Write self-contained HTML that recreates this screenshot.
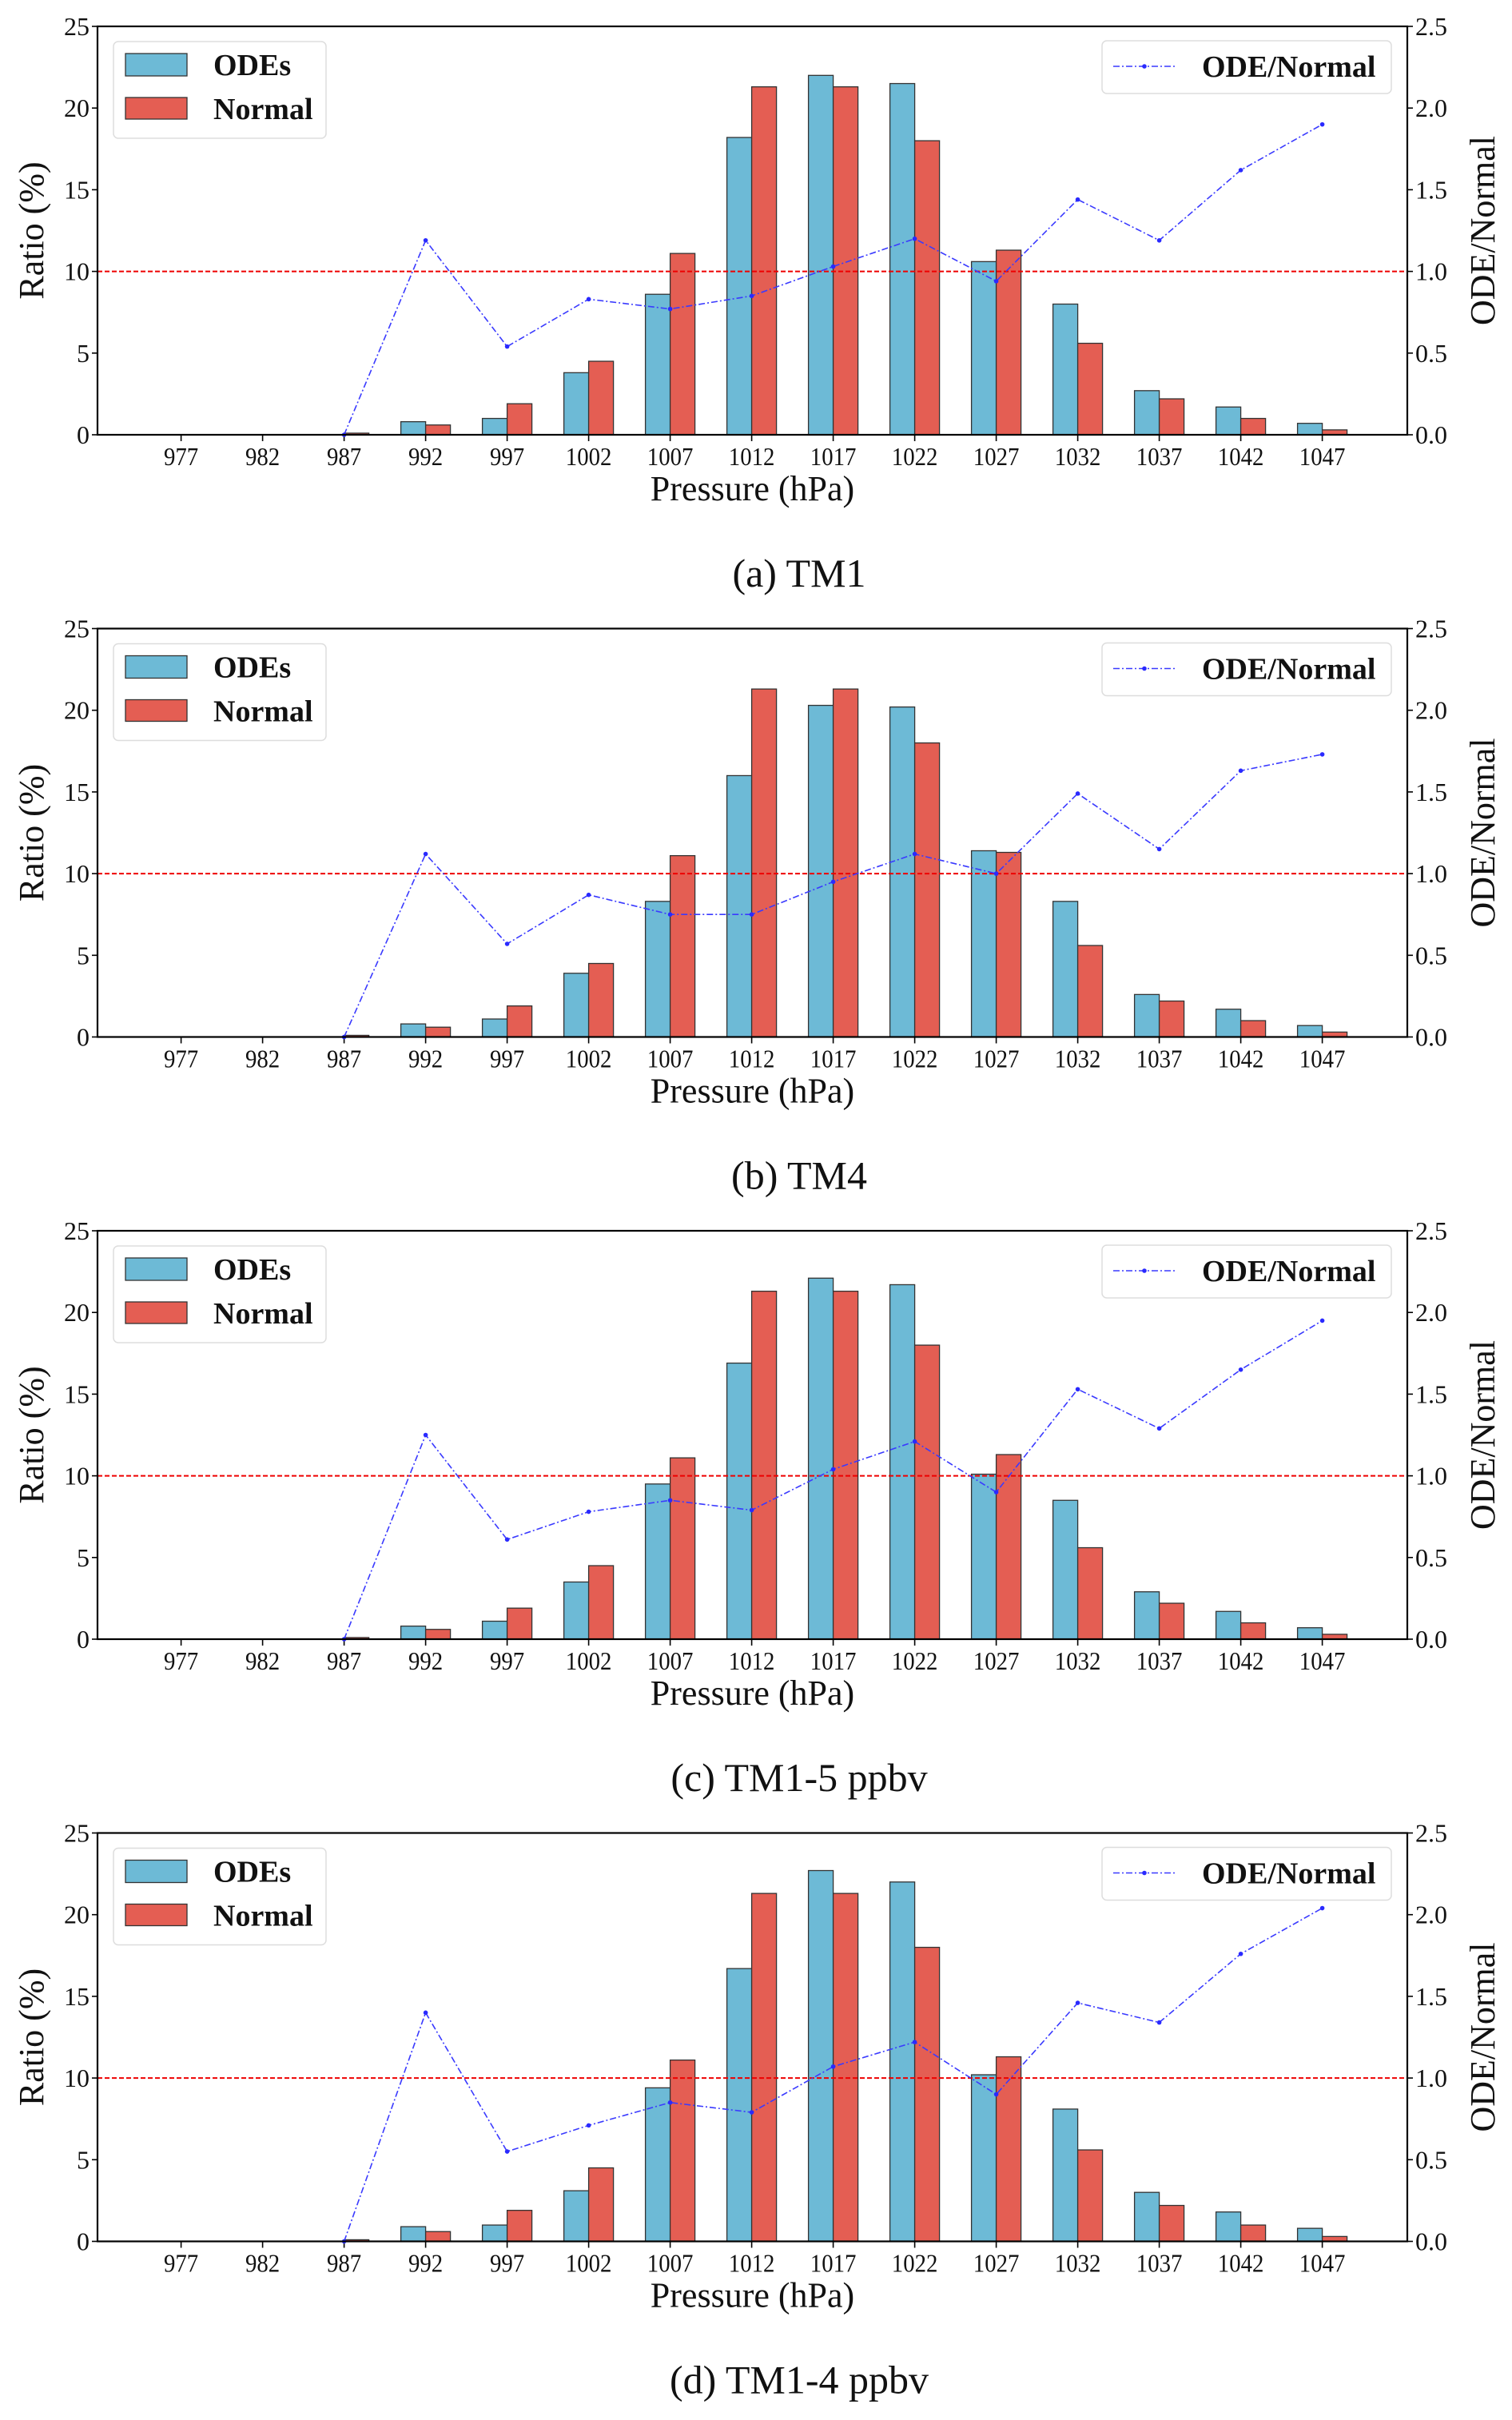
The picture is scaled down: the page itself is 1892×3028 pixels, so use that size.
<!DOCTYPE html>
<html><head><meta charset="utf-8"><style>
html,body{margin:0;padding:0;background:#fff;}
svg{display:block;}
</style></head><body>
<svg id="fig" width="1892" height="3028" xmlns="http://www.w3.org/2000/svg"></svg>
<script>
const categories = [977,982,987,992,997,1002,1007,1012,1017,1022,1027,1032,1037,1042,1047];
const normalVals = [0,0,0.1,0.6,1.9,4.5,11.1,21.3,21.3,18.0,11.3,5.6,2.2,1.0,0.3];
const odesA = [0,0,0,0.8,1.0,3.8,8.6,18.2,22.0,21.5,10.6,8.0,2.7,1.7,0.7];
const odesB = [0,0,0,0.8,1.1,3.9,8.3,16.0,20.3,20.2,11.4,8.3,2.6,1.7,0.7];
const odesC = [0,0,0,0.8,1.1,3.5,9.5,16.9,22.1,21.7,10.1,8.5,2.9,1.7,0.7];
const odesD = [0,0,0,0.9,1.0,3.1,9.4,16.7,22.7,22.0,10.2,8.1,3.0,1.8,0.8];
const ratioA = [null,null,0,1.19,0.54,0.83,0.77,0.85,1.03,1.20,0.94,1.44,1.19,1.62,1.90];
const ratioB = [null,null,0,1.12,0.57,0.87,0.75,0.75,0.95,1.12,1.00,1.49,1.15,1.63,1.73];
const ratioC = [null,null,0,1.25,0.61,0.78,0.85,0.79,1.04,1.21,0.90,1.53,1.29,1.65,1.95];
const ratioD = [null,null,0,1.40,0.55,0.71,0.85,0.79,1.07,1.22,0.90,1.46,1.34,1.76,2.04];
const leftTicks = [0,5,10,15,20,25];
const rightTicks = ["0.0","0.5","1.0","1.5","2.0","2.5"];
const captions = ["(a) TM1","(b) TM4","(c) TM1-5 ppbv","(d) TM1-4 ppbv"];

const NS="http://www.w3.org/2000/svg";
const svg=document.getElementById('fig');
function mk(tag,attrs,parent,text){const e=document.createElementNS(NS,tag);for(const k in attrs)e.setAttribute(k,attrs[k]);if(text!==undefined)e.textContent=text;parent.appendChild(e);return e;}

const panels=[[odesA,ratioA],[odesB,ratioB],[odesC,ratioC],[odesD,ratioD]];
const L=122,R=1761,step=102,x0=226.6,bw=31;
panels.forEach((p,i)=>{
  const off=i*753.5;
  const top=33+off,bot=544+off;
  const g=mk('g',{},svg);
  
  
  const y=v=>bot-(v/25)*(bot-top);
  const yr=v=>bot-(v/2.5)*(bot-top);
  const x=j=>x0+j*step;
  const serif='"Liberation Serif", serif';
  categories.forEach((c,j)=>{
    const o=p[0][j],n=normalVals[j];
    const b1=mk('rect',{x:x(j)-bw,y:y(o),width:bw,height:bot-y(o),fill:'#6dbad6',stroke:'#333','stroke-width':1.3},g);
    
    
    const b2=mk('rect',{x:x(j),y:y(n),width:bw,height:bot-y(n),fill:'#e45e53',stroke:'#333','stroke-width':1.3},g);
    
    
    const tl=mk('text',{x:x(j),y:bot+38,'font-size':32,'font-family':serif,'text-anchor':'middle',fill:'#111',transform:`translate(${x(j)*0.1},0) scale(0.9,1)`},g,String(c));
    
    
    mk('line',{x1:x(j),x2:x(j),y1:bot,y2:bot+8,stroke:'#000','stroke-width':1.6},g);
  });
  const ref=mk('line',{x1:L,x2:R,y1:yr(1),y2:yr(1),stroke:'#e00','stroke-width':2,'stroke-dasharray':'6,3'},g);
  
  
  let d='';
  p[1].forEach((v,j)=>{if(v===null)return;d+=(d?'L':'M')+x(j)+','+yr(v);});
  const ln=mk('path',{d:d,fill:'none',stroke:'#3a3aff','stroke-width':1.6,'stroke-dasharray':'8,3,2,3'},g);
  
  
  p[1].forEach((v,j)=>{if(v===null)return;
    const pt=mk('circle',{cx:x(j),cy:yr(v),r:2.8,fill:'#2a2aff'},g);
    
    });
  const fr=mk('rect',{x:L,y:top,width:R-L,height:bot-top,fill:'none',stroke:'#000','stroke-width':2.2},g);
  
  
  leftTicks.forEach((t)=>{
    mk('line',{x1:L-7,x2:L,y1:y(t),y2:y(t),stroke:'#000','stroke-width':1.6},g);
    const e=mk('text',{x:L-10,y:y(t)+11,'font-size':32,'font-family':serif,'text-anchor':'end',fill:'#111'},g,String(t));
    
    
  });
  rightTicks.forEach((t)=>{
    const v=parseFloat(t);
    mk('line',{x1:R,x2:R+7,y1:yr(v),y2:yr(v),stroke:'#000','stroke-width':1.6},g);
    const e=mk('text',{x:R+10,y:yr(v)+11,'font-size':32,'font-family':serif,fill:'#111'},g,t);
    
    
  });
  const xl=mk('text',{x:(L+R)/2,y:bot+82,'font-size':44,'font-family':serif,'text-anchor':'middle',fill:'#111'},g,'Pressure (hPa)');
  
  
  const yl=mk('text',{x:0,y:0,'font-size':44,'font-family':serif,'text-anchor':'middle',fill:'#111',transform:`translate(54,${(top+bot)/2}) rotate(-90)`},g,'Ratio (%)');
  
  
  const yr2=mk('text',{x:0,y:0,'font-size':44,'font-family':serif,'text-anchor':'middle',fill:'#111',transform:`translate(1870,${(top+bot)/2}) rotate(-90)`},g,'ODE/Normal');
  
  
  const lg=mk('g',{},g);
  
  
  mk('rect',{x:142,y:top+19,width:266,height:121,rx:6,fill:'#fff',stroke:'#ddd','stroke-width':1.5},lg);
  mk('rect',{x:157,y:top+34,width:77,height:28,fill:'#6dbad6',stroke:'#333','stroke-width':1.3},lg);
  mk('rect',{x:157,y:top+89,width:77,height:27,fill:'#e45e53',stroke:'#333','stroke-width':1.3},lg);
  mk('text',{x:267,y:top+61,'font-size':38,'font-weight':'bold','font-family':serif,fill:'#111'},lg,'ODEs');
  mk('text',{x:267,y:top+116,'font-size':38,'font-weight':'bold','font-family':serif,fill:'#111'},lg,'Normal');
  const lg2=mk('g',{},g);
  
  
  mk('rect',{x:1379,y:top+18,width:362,height:66,rx:6,fill:'#fff',stroke:'#ddd','stroke-width':1.5},lg2);
  mk('line',{x1:1393,x2:1472,y1:top+50,y2:top+50,stroke:'#3a3aff','stroke-width':1.6,'stroke-dasharray':'8,3,2,3'},lg2);
  mk('circle',{cx:1432,cy:top+50,r:2.8,fill:'#2a2aff'},lg2);
  mk('text',{x:1504,y:top+63,'font-size':38,'font-weight':'bold','font-family':serif,fill:'#111'},lg2,'ODE/Normal');
  const cap=mk('text',{x:1000,y:bot+190,'font-size':50,'font-family':serif,'text-anchor':'middle',fill:'#111'},g,captions[i]);
  
  
});
</script>
</body></html>
